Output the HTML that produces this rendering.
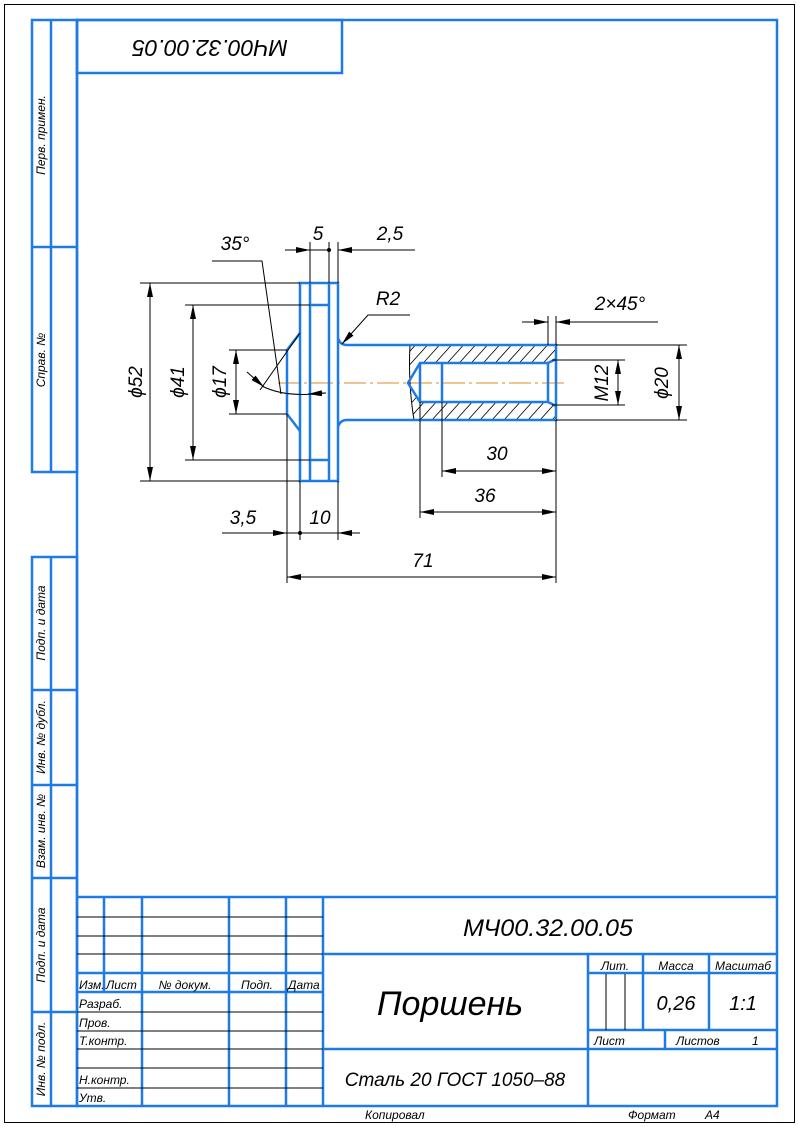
<!DOCTYPE html>
<html><head><meta charset="utf-8"><style>
html,body{margin:0;padding:0;background:#fff;}
svg{display:block;}
text{font-family:"Liberation Sans","DejaVu Sans",sans-serif;font-style:italic;fill:#000;}
</style></head><body>
<svg width="798" height="1127" viewBox="0 0 798 1127" xmlns="http://www.w3.org/2000/svg">
<defs>
<marker id="a" viewBox="0 0 14 6" refX="14" refY="3" markerWidth="14" markerHeight="6" markerUnits="userSpaceOnUse" orient="auto">
<path d="M0,0 L14,3 L0,6 Z" fill="#000"/></marker>
<marker id="as" viewBox="0 0 14 6" refX="14" refY="3" markerWidth="14" markerHeight="6" markerUnits="userSpaceOnUse" orient="auto-start-reverse">
<path d="M0,0 L14,3 L0,6 Z" fill="#000"/></marker>
<clipPath id="hc"><path d="M410,345 L556,345 L556,420 L414,420 Q408,383 410,345 Z M420,363 L548,363 L556,359 L556,406 L548,402 L420,402 L408,383 Z" clip-rule="evenodd"/></clipPath>
</defs>
<rect x="4.5" y="4.5" width="790" height="1118" fill="none" stroke="#000" stroke-width="1"/>
<g fill="none" stroke="#1e7be6" stroke-width="2.5">
<rect x="77" y="20" width="700" height="1086"/>
<rect x="32" y="20" width="45" height="452"/>
<line x1="51" y1="20" x2="51" y2="472"/>
<line x1="32" y1="247" x2="77" y2="247"/>
<rect x="32" y="557" width="45" height="549"/>
<line x1="51" y1="557" x2="51" y2="1106"/>
<line x1="32" y1="690" x2="77" y2="690"/>
<line x1="32" y1="785" x2="77" y2="785"/>
<line x1="32" y1="878" x2="77" y2="878"/>
<line x1="32" y1="1012" x2="77" y2="1012"/>
<rect x="77" y="20" width="265" height="53"/>
<line x1="77" y1="897" x2="777" y2="897"/>
<line x1="77" y1="973" x2="323" y2="973"/>
<line x1="77" y1="992" x2="323" y2="992"/>
<line x1="104" y1="897" x2="104" y2="992"/>
<line x1="142" y1="897" x2="142" y2="1106"/>
<line x1="229" y1="897" x2="229" y2="1106"/>
<line x1="286" y1="897" x2="286" y2="1106"/>
<line x1="323" y1="897" x2="323" y2="1106"/>
<line x1="323" y1="954" x2="777" y2="954"/>
<line x1="323" y1="1049" x2="777" y2="1049"/>
<line x1="588" y1="954" x2="588" y2="1106"/>
<line x1="588" y1="973" x2="777" y2="973"/>
<line x1="588" y1="1030" x2="777" y2="1030"/>
<line x1="643" y1="954" x2="643" y2="1030"/>
<line x1="709" y1="954" x2="709" y2="1030"/>
<line x1="665" y1="1030" x2="665" y2="1049"/>
</g>
<g stroke="#000" stroke-width="1">
<line x1="77" y1="917" x2="323" y2="917"/>
<line x1="77" y1="936" x2="323" y2="936"/>
<line x1="77" y1="954" x2="323" y2="954"/>
<line x1="77" y1="1012" x2="323" y2="1012"/>
<line x1="77" y1="1031" x2="323" y2="1031"/>
<line x1="77" y1="1049" x2="323" y2="1049"/>
<line x1="77" y1="1068" x2="323" y2="1068"/>
<line x1="77" y1="1088" x2="323" y2="1088"/>
<line x1="606" y1="974" x2="606" y2="1030"/>
<line x1="625" y1="974" x2="625" y2="1030"/>
</g>
<g font-size="12">
<text transform="translate(45,135) rotate(-90)" text-anchor="middle">Перв. примен.</text>
<text transform="translate(45,360) rotate(-90)" text-anchor="middle">Справ. №</text>
<text transform="translate(45,623) rotate(-90)" text-anchor="middle">Подп. и дата</text>
<text transform="translate(45,737) rotate(-90)" text-anchor="middle">Инв. № дубл.</text>
<text transform="translate(45,831) rotate(-90)" text-anchor="middle">Взам. инв. №</text>
<text transform="translate(45,945) rotate(-90)" text-anchor="middle">Подп. и дата</text>
<text transform="translate(45,1059) rotate(-90)" text-anchor="middle">Инв. № подл.</text>
</g>
<text transform="translate(210,40) rotate(180)" text-anchor="middle" font-size="23">МЧ00.32.00.05</text>
<g font-size="12">
<text x="79" y="989">Изм.</text><text x="106" y="989">Лист</text>
<text x="185" y="989" text-anchor="middle">№ докум.</text>
<text x="257" y="989" text-anchor="middle">Подп.</text>
<text x="288" y="989">Дата</text>
<text x="79" y="1008">Разраб.</text>
<text x="79" y="1027">Пров.</text>
<text x="79" y="1045">Т.контр.</text>
<text x="79" y="1084">Н.контр.</text>
<text x="79" y="1102">Утв.</text>
<text x="615" y="970" text-anchor="middle">Лит.</text>
<text x="676" y="970" text-anchor="middle">Масса</text>
<text x="743" y="970" text-anchor="middle">Масштаб</text>
<text x="594" y="1045">Лист</text>
<text x="676" y="1045">Листов</text>
<text x="752" y="1045">1</text>
<text x="365" y="1119">Копировал</text>
<text x="628" y="1119">Формат</text>
<text x="705" y="1119">А4</text>
</g>
<text x="676" y="1010" font-size="20" text-anchor="middle">0,26</text>
<text x="743" y="1010" font-size="20" text-anchor="middle">1:1</text>
<text x="548" y="936" font-size="24" text-anchor="middle" textLength="170" lengthAdjust="spacingAndGlyphs">МЧ00.32.00.05</text>
<text x="450" y="1015" font-size="34" text-anchor="middle">Поршень</text>
<text x="455" y="1086" font-size="19" text-anchor="middle">Сталь 20  ГОСТ 1050–88</text>

<line x1="278" y1="383" x2="566" y2="383" stroke="#e08a20" stroke-width="1" stroke-dasharray="22,4,3,4"/>
<g clip-path="url(#hc)" stroke="#000" stroke-width="0.8">
<path d="M318,440 l90,-100 M330,440 l90,-100 M342,440 l90,-100 M354,440 l90,-100 M366,440 l90,-100 M378,440 l90,-100 M390,440 l90,-100 M402,440 l90,-100 M414,440 l90,-100 M426,440 l90,-100 M438,440 l90,-100 M450,440 l90,-100 M462,440 l90,-100 M474,440 l90,-100 M486,440 l90,-100 M498,440 l90,-100 M510,440 l90,-100 M522,440 l90,-100 M534,440 l90,-100 M546,440 l90,-100"/>
</g>
<path d="M410,345 Q408,383 414,420" fill="none" stroke="#000" stroke-width="1"/>
<g fill="none" stroke="#1e7be6" stroke-width="2.5">
<rect x="300" y="283" width="38" height="198"/>
<line x1="310" y1="283" x2="310" y2="481"/>
<line x1="329" y1="283" x2="329" y2="481"/>
<line x1="310" y1="305" x2="329" y2="305"/>
<line x1="310" y1="460" x2="329" y2="460"/>
<path d="M300,333 L287,350 L287,414 L300,431"/>
<path d="M338,338 Q340,345 347,345 L556,345 L556,420 L347,420 Q340,420 338,427"/>
<path d="M556,359 L548,363 L420,363 L408,383 L420,402 L548,402 L556,406"/>
<line x1="420" y1="363" x2="420" y2="402"/>
<line x1="442" y1="363" x2="442" y2="402"/>
<line x1="548" y1="363" x2="548" y2="402"/>
</g>
<g stroke="#000" stroke-width="1" fill="none">
<line x1="140" y1="283" x2="300" y2="283"/><line x1="140" y1="481" x2="300" y2="481"/>
<line x1="150" y1="283" x2="150" y2="481" marker-start="url(#as)" marker-end="url(#a)"/>
<line x1="185" y1="305" x2="310" y2="305"/><line x1="185" y1="460" x2="310" y2="460"/>
<line x1="193" y1="305" x2="193" y2="460" marker-start="url(#as)" marker-end="url(#a)"/>
<line x1="229" y1="350" x2="287" y2="350"/><line x1="229" y1="414" x2="287" y2="414"/>
<line x1="236" y1="350" x2="236" y2="414" marker-start="url(#as)" marker-end="url(#a)"/>
<line x1="310" y1="283" x2="310" y2="242"/><line x1="329" y1="283" x2="329" y2="242"/><line x1="338" y1="283" x2="338" y2="242"/>
<line x1="285" y1="250" x2="310" y2="250" marker-end="url(#a)"/>
<line x1="310" y1="250" x2="329" y2="250"/>
<line x1="415" y1="250" x2="338" y2="250" marker-end="url(#a)"/>
<circle cx="329" cy="250" r="1.5" fill="#000"/>
<path d="M212,261 L262,261 L281,394"/>
<line x1="300" y1="333" x2="260" y2="390"/>
<path d="M262,386 Q285,398 325,393"/>
<line x1="247" y1="372" x2="264" y2="387" marker-end="url(#a)"/>
<line x1="326" y1="393" x2="308" y2="394" marker-end="url(#a)"/>
<path d="M410,315 L368,315 L342,344" marker-end="url(#a)"/>
<line x1="548" y1="345" x2="548" y2="316"/><line x1="556" y1="345" x2="556" y2="316"/>
<line x1="522" y1="322" x2="548" y2="322" marker-end="url(#a)"/>
<line x1="658" y1="322" x2="556" y2="322" marker-end="url(#a)"/>
<line x1="552" y1="360" x2="625" y2="360"/><line x1="552" y1="405" x2="625" y2="405"/>
<line x1="618" y1="360" x2="618" y2="405" marker-start="url(#as)" marker-end="url(#a)"/>
<line x1="556" y1="345" x2="687" y2="345"/><line x1="556" y1="420" x2="687" y2="420"/>
<line x1="679" y1="345" x2="679" y2="420" marker-start="url(#as)" marker-end="url(#a)"/>
<line x1="442" y1="402" x2="442" y2="477"/>
<line x1="420" y1="402" x2="420" y2="518"/>
<line x1="556" y1="420" x2="556" y2="583"/>
<line x1="442" y1="471" x2="556" y2="471" marker-start="url(#as)" marker-end="url(#a)"/>
<line x1="420" y1="512" x2="556" y2="512" marker-start="url(#as)" marker-end="url(#a)"/>
<line x1="287" y1="414" x2="287" y2="583"/>
<line x1="300" y1="481" x2="300" y2="540"/>
<line x1="338" y1="481" x2="338" y2="540"/>
<line x1="222" y1="533" x2="287" y2="533" marker-end="url(#a)"/>
<line x1="287" y1="533" x2="338" y2="533"/>
<line x1="360" y1="533" x2="338" y2="533" marker-end="url(#a)"/>
<circle cx="300" cy="533" r="1.5" fill="#000"/>
<line x1="287" y1="577" x2="556" y2="577" marker-start="url(#as)" marker-end="url(#a)"/>
</g>
<g font-size="19">
<text x="318" y="240" text-anchor="middle">5</text>
<text x="390" y="240" text-anchor="middle">2,5</text>
<text x="235" y="250" text-anchor="middle">35°</text>
<text x="388" y="305" text-anchor="middle">R2</text>
<text x="620" y="310" text-anchor="middle">2×45°</text>
<text transform="translate(142,382) rotate(-90)" text-anchor="middle">ϕ52</text>
<text transform="translate(184,382) rotate(-90)" text-anchor="middle">ϕ41</text>
<text transform="translate(226,382) rotate(-90)" text-anchor="middle">ϕ17</text>
<text transform="translate(608,383) rotate(-90)" text-anchor="middle">M12</text>
<text transform="translate(668,383) rotate(-90)" text-anchor="middle">ϕ20</text>
<text x="497" y="460" text-anchor="middle">30</text>
<text x="485" y="502" text-anchor="middle">36</text>
<text x="243" y="524" text-anchor="middle">3,5</text>
<text x="320" y="524" text-anchor="middle">10</text>
<text x="423" y="567" text-anchor="middle">71</text>
</g>
</svg>
</body></html>
